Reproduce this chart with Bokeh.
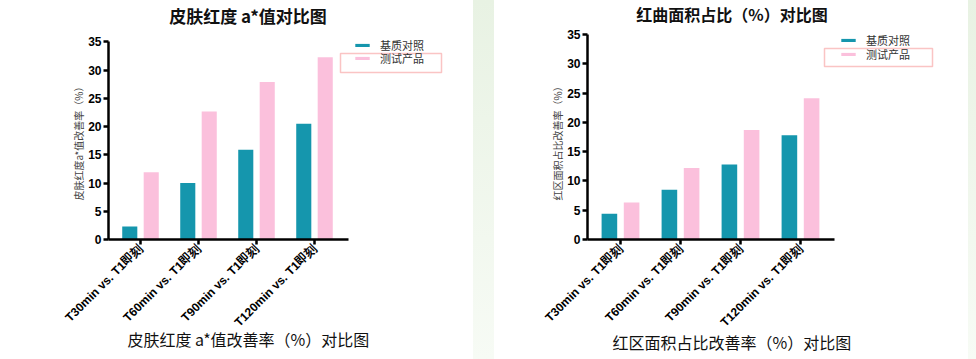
import math
from bokeh.plotting import figure
from bokeh.models import (Range1d, FixedTicker, Legend, LegendItem, BoxAnnotation,
                          Title, Label, Spacer)
from bokeh.layouts import row
from bokeh.transform import dodge
from bokeh.embed import file_html
from bokeh.resources import INLINE

# ---------------- data ----------------
categories = ["T30min vs. T1即刻", "T60min vs. T1即刻", "T90min vs. T1即刻", "T120min vs. T1即刻"]
series_names = ["基质对照", "测试产品"]
a_control = [2.3, 10.0, 15.9, 20.5]
a_test = [11.9, 22.7, 27.9, 32.3]
area_control = [4.4, 8.5, 12.8, 17.8]
area_test = [6.3, 12.2, 18.7, 24.1]
y_ticks = [0, 5, 10, 15, 20, 25, 30, 35]
y_max = 35

TEAL = "#1596ad"
PINK = "#fbc0dc"
CJK = "Noto Sans CJK SC"
LAT = "Liberation Sans"
MIX = '"Liberation Sans", "Noto Sans CJK SC"'
H = 359


def make_panel(title, caption, ylabel, control, test, width,
               frame_left, frame_right, y35_px, y0_px, first_center_px, unit_px,
               axis_end_px, title_size, title_xy, cap_off, cap_standoff,
               leg_x, leg_y, red_box, ylab_off):
    frame_top = 0
    px_per_y = (y0_px - y35_px) / y_max
    y_end = y_max + (y35_px - frame_top) / px_per_y
    x_start = -(first_center_px - frame_left) / unit_px
    x_end = (frame_right - first_center_px) / unit_px
    axis_end = (axis_end_px - first_center_px) / unit_px
    p = figure(width=width, height=H, output_backend="svg", toolbar_location=None,
               x_range=Range1d(x_start, x_end), y_range=Range1d(0, y_end),
               min_border_left=frame_left, min_border_right=width - frame_right,
               min_border_top=frame_top, min_border_bottom=round(H - y0_px))
    p.outline_line_color = None
    p.grid.visible = False
    p.background_fill_color = "white"
    p.border_fill_color = "white"
    p.title.visible = False

    xs = list(range(len(categories)))
    src = dict(x=xs, control=control, test=test)
    r1 = p.vbar(x=dodge("x", -0.185, range=p.x_range), top="control", width=0.26,
                source=src, fill_color=TEAL, line_color=None)
    r2 = p.vbar(x=dodge("x", 0.185, range=p.x_range), top="test", width=0.26,
                source=src, fill_color=PINK, line_color=None)

    p.add_layout(Label(x=title_xy[0], y=title_xy[1], x_units="canvas", y_units="canvas",
                       text=title, text_font=CJK, text_font_size=title_size,
                       text_font_style="bold", text_color="#111111",
                       text_align="center", text_baseline="middle"))

    cap = Title(text=caption, text_font=CJK, text_font_size="16px",
                text_font_style="normal", text_color="#111111", align="left",
                offset=cap_off, standoff=cap_standoff)
    p.add_layout(cap, "below")

    xa = p.xaxis[0]
    xa.ticker = FixedTicker(ticks=xs)
    xa.major_label_overrides = {i: c for i, c in enumerate(categories)}
    xa.major_label_orientation = math.pi / 4
    xa.bounds = (x_start, axis_end)
    ya = p.yaxis[0]
    ya.ticker = FixedTicker(ticks=y_ticks)
    ya.bounds = (0, y_max)
    for ax in (xa, ya):
        ax.axis_line_width = 2.5
        ax.axis_line_color = "black"
        ax.major_tick_line_width = 2.5
        ax.major_tick_line_color = "black"
        ax.major_tick_out = 5
        ax.major_tick_in = 0
        ax.minor_tick_line_color = None
        ax.major_label_text_font = LAT
        ax.major_label_text_font_style = "bold"
        ax.major_label_text_font_size = "12px"
        ax.major_label_text_color = "black"
        ax.major_label_standoff = 2

    # y-axis title, placed along the 0..35 span of the axis
    ylab = Title(text=ylabel, text_font=CJK, text_font_size="10px",
                 text_font_style="normal", text_color="#444444", align="left",
                 offset=ylab_off, standoff=0)
    p.add_layout(ylab, "left")

    for name, rend, ly in ((series_names[0], r1, leg_y[0]), (series_names[1], r2, leg_y[1])):
        lg = Legend(items=[LegendItem(label=name, renderers=[rend])],
                    location=(leg_x, ly), border_line_color=None,
                    background_fill_alpha=0, padding=0, spacing=0,
                    glyph_width=18, glyph_height=4, label_standoff=9,
                    label_height=13,
                    label_text_font=MIX, label_text_font_size="11px",
                    label_text_color="#333333")
        p.add_layout(lg, "center")

    box = BoxAnnotation(left=red_box[0], right=red_box[1], top=red_box[2], bottom=red_box[3],
                        left_units="canvas", right_units="canvas",
                        top_units="canvas", bottom_units="canvas",
                        fill_alpha=0, line_color="#f03a3a", line_width=1.5)
    p.add_layout(box)
    return p


p1 = make_panel("皮肤红度 a*值对比图", "皮肤红度 a*值改善率（%）对比图",
                "皮肤红度a*值改善率（%）", a_control, a_test, width=473,
                frame_left=108, frame_right=455, y35_px=42, y0_px=242,
                first_center_px=140, unit_px=58, axis_end_px=348,
                title_size="17px", title_xy=(247.5, 15),
                cap_off=19, cap_standoff=-26,
                leg_x=245, leg_y=(186, 173), red_box=(340, 441, 53, 72), ylab_off=39)

p2 = make_panel("红曲面积占比（%）对比图", "红区面积占比改善率（%）对比图",
                "红区面积占比改善率（%）", area_control, area_test, width=474,
                frame_left=93, frame_right=456, y35_px=34, y0_px=239.3,
                first_center_px=126, unit_px=60, axis_end_px=340,
                title_size="16px", title_xy=(237.5, 13.5),
                cap_off=25, cap_standoff=-20,
                leg_x=252, leg_y=(191, 177), red_box=(330, 438, 48, 66), ylab_off=39)

strip = Spacer(width=21, height=H,
               styles={"background": "linear-gradient(#e8f2e3, #f7fbf5)"})
strip2 = Spacer(width=8, height=H,
                styles={"background": "linear-gradient(#e8f2e3, #f7fbf5)"})

layout = row(p1, strip, p2, strip2, spacing=0)

open("out.html", "w").write(file_html(layout, INLINE))
